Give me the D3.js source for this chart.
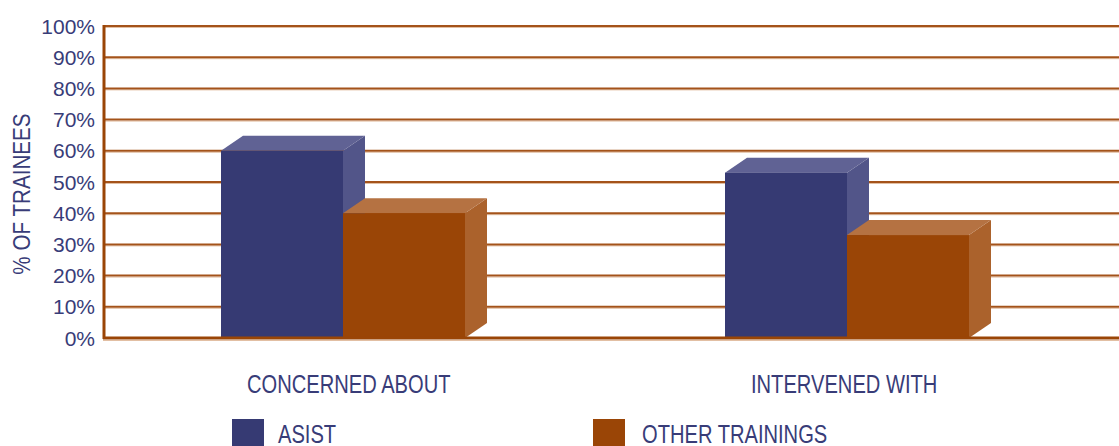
<!DOCTYPE html>
<html>
<head>
<meta charset="utf-8">
<script src="https://cdn.jsdelivr.net/npm/d3@7/dist/d3.min.js"></script>
<style>
  body { margin: 0; background: #fff; }
  svg { display: block; }
  text { font-family: "Liberation Sans", Arial, sans-serif; }
</style>
</head>
<body>
<svg id="chart" width="1119" height="446"></svg>
<script>
// data
var categories = ["CONCERNED ABOUT", "INTERVENED WITH"];
var seriesNames = ["ASIST", "OTHER TRAININGS"];
var asistValues = [60, 53];
var otherValues = [40, 33];
var yTicks = [0, 10, 20, 30, 40, 50, 60, 70, 80, 90, 100];

var frontColors = ["#363a73", "#9a4506"];
var topColors = ["#606294", "#b57242"];
var sideColors = ["#525589", "#ab622c"];
var textColor = "#383c78";
var gridColor = "#a4531a";

var svg = d3.select("#chart");
var plotLeft = 104, plotRight = 1119, plotTop = 26, plotBottom = 338;
var depthX = 22, depthY = 15;
var condense = 0.76;

var y = d3.scaleLinear().domain([0, 100]).range([plotBottom, plotTop]);
var x = d3.scaleBand().domain(categories).range([91, 1099]);
var xs = d3.scaleBand().domain(seriesNames).range([-122, 122]);

// gridlines, with the pale shadow line under each
var gridVals = yTicks.filter(function(d) { return d > 0; });
var grid = svg.append("g");
grid.selectAll("line.shadow")
    .data(gridVals)
    .enter().append("line")
    .attr("class", "shadow")
    .attr("x1", plotLeft).attr("x2", plotRight)
    .attr("y1", function(d) { return y(d) + 1.5; })
    .attr("y2", function(d) { return y(d) + 1.5; })
    .attr("stroke", "#e2bfa3").attr("stroke-width", 1);
grid.selectAll("line.main")
    .data(gridVals)
    .enter().append("line")
    .attr("class", "main")
    .attr("x1", plotLeft).attr("x2", plotRight)
    .attr("y1", function(d) { return y(d); })
    .attr("y2", function(d) { return y(d); })
    .attr("stroke", gridColor).attr("stroke-width", 2);

// y tick labels
svg.append("g").selectAll("text")
    .data(yTicks)
    .enter().append("text")
    .attr("x", 95)
    .attr("y", function(d) { return y(d) + 7.5; })
    .attr("text-anchor", "end")
    .style("font-size", "21px")
    .style("fill", textColor)
    .text(function(d) { return d + "%"; });

// y axis title
svg.append("text")
    .attr("text-anchor", "middle")
    .attr("transform", "translate(30,194) rotate(-90) scale(0.86,1)")
    .style("font-size", "24px")
    .style("fill", textColor)
    .text("% OF TRAINEES");

// 3D bars
var bars = [];
categories.forEach(function(c, i) {
    [asistValues[i], otherValues[i]].forEach(function(v, s) {
        bars.push({cat: c, series: s, value: v});
    });
});

var barG = svg.append("g");
bars.forEach(function(d) {
    var x0 = x(d.cat) + x.bandwidth() / 2 + xs(seriesNames[d.series]);
    var x1 = x0 + xs.bandwidth();
    var y0 = y(d.value), y1 = y(0);
    var g = barG.append("g");
    g.append("polygon")
        .attr("points", [[x1, y0], [x1 + depthX, y0 - depthY], [x1 + depthX, y1 - depthY], [x1, y1]].join(" "))
        .attr("fill", sideColors[d.series]);
    g.append("polygon")
        .attr("points", [[x0, y0], [x0 + depthX, y0 - depthY], [x1 + depthX, y0 - depthY], [x1, y0]].join(" "))
        .attr("fill", topColors[d.series]);
    g.append("rect")
        .attr("x", x0).attr("y", y0)
        .attr("width", x1 - x0).attr("height", y1 - y0)
        .attr("fill", frontColors[d.series]);
});

// axis lines
svg.append("line")
    .attr("x1", plotLeft - 1).attr("x2", plotRight)
    .attr("y1", plotBottom + 2.5).attr("y2", plotBottom + 2.5)
    .attr("stroke", "#e2bfa3").attr("stroke-width", 1);
svg.append("line")
    .attr("x1", plotLeft - 1).attr("x2", plotRight)
    .attr("y1", plotBottom).attr("y2", plotBottom)
    .attr("stroke", "#9a4506").attr("stroke-width", 3);
svg.append("line")
    .attr("x1", plotLeft).attr("x2", plotLeft)
    .attr("y1", plotTop - 1).attr("y2", plotBottom + 1)
    .attr("stroke", "#9a4506").attr("stroke-width", 3);

// category labels (left aligned a fixed distance left of the group centre)
svg.append("g").selectAll("text")
    .data(categories)
    .enter().append("text")
    .attr("transform", function(d) {
        return "translate(" + (x(d) + x.bandwidth() / 2 - 96) + ",393) scale(" + condense + ",1)";
    })
    .style("font-size", "26.5px")
    .style("fill", textColor)
    .text(function(d) { return d; });

// legend
var legendX = [232, 593];
var legend = svg.append("g").selectAll("g")
    .data(seriesNames)
    .enter().append("g")
    .attr("transform", function(d, i) { return "translate(" + legendX[i] + ",419)"; });
legend.append("rect")
    .attr("width", 32).attr("height", 30)
    .attr("fill", function(d, i) { return frontColors[i]; });
legend.append("text")
    .attr("transform", function(d, i) { return "translate(" + (i === 0 ? 46 : 49) + ",24) scale(" + condense + ",1)"; })
    .style("font-size", "26.5px")
    .style("fill", textColor)
    .text(function(d) { return d; });
</script>
</body>
</html>
